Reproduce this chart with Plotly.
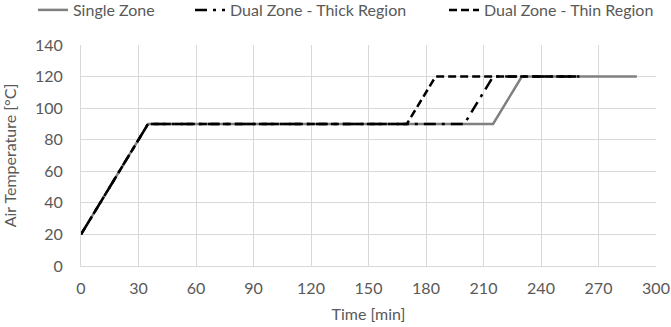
import plotly.graph_objects as go

single_x = [0, 35, 215, 230, 290]
single_y = [20, 90, 90, 120, 120]
thick_x = [0, 35, 200, 215, 260]
thick_y = [20, 90, 90, 120, 120]
thin_x = [0, 35, 170, 185, 260]
thin_y = [20, 90, 90, 120, 120]

x_ticks = list(range(0, 301, 30))
y_ticks = list(range(0, 141, 20))

FONT = "Lato"
GRAY = "#595959"

fig = go.Figure()
fig.add_trace(go.Scatter(x=single_x, y=single_y, mode="lines", name="Single Zone",
                         line=dict(color="#808080", width=2.5), legend="legend"))
fig.add_trace(go.Scatter(x=thick_x, y=thick_y, mode="lines", name="Dual Zone - Thick Region",
                         line=dict(color="black", width=2.5, dash="12px,6px,3px,6px"),
                         legend="legend2"))
fig.add_trace(go.Scatter(x=thin_x, y=thin_y, mode="lines", name="Dual Zone - Thin Region",
                         line=dict(color="black", width=2.5, dash="8px,4px"), legend="legend3"))

def leg(xpx):
    return dict(orientation="h", x=xpx / 671, y=1 - 10 / 327, xref="container", yref="container",
                xanchor="left", yanchor="middle", font=dict(size=16, color=GRAY),
                bgcolor="rgba(0,0,0,0)")

fig.update_layout(
    width=671, height=327,
    margin=dict(l=81, r=15, t=45, b=61, autoexpand=False),
    paper_bgcolor="white", plot_bgcolor="white",
    font=dict(family=FONT, size=16, color=GRAY),
    showlegend=True,
    legend=leg(33), legend2=leg(190), legend3=leg(444),
    xaxis=dict(range=[0, 300], tickvals=x_ticks, ticktext=[str(v) for v in x_ticks],
               showgrid=True, gridcolor="#d9d9d9", gridwidth=1,
               showline=True, linecolor="#d9d9d9", linewidth=1, mirror=False,
               zeroline=False, ticks="", tickfont=dict(size=16, color=GRAY),
               automargin=False, ticklabelstandoff=8,
               title=dict(text="Time [min]", font=dict(size=16, color=GRAY), standoff=12)),
    yaxis=dict(range=[0, 140], tickvals=y_ticks, ticktext=[str(v) for v in y_ticks],
               showgrid=True, gridcolor="#d9d9d9", gridwidth=1,
               showline=True, linecolor="#d9d9d9", linewidth=1,
               zeroline=False, ticks="", tickfont=dict(size=16, color=GRAY),
               automargin=False, ticklabelstandoff=14,
               title=dict(text="Air Temperature [°C]", font=dict(size=16, color=GRAY), standoff=20)),
)

fig.write_html("out.html", config={"displayModeBar": False},
               post_script="document.body.style.margin='0';")
